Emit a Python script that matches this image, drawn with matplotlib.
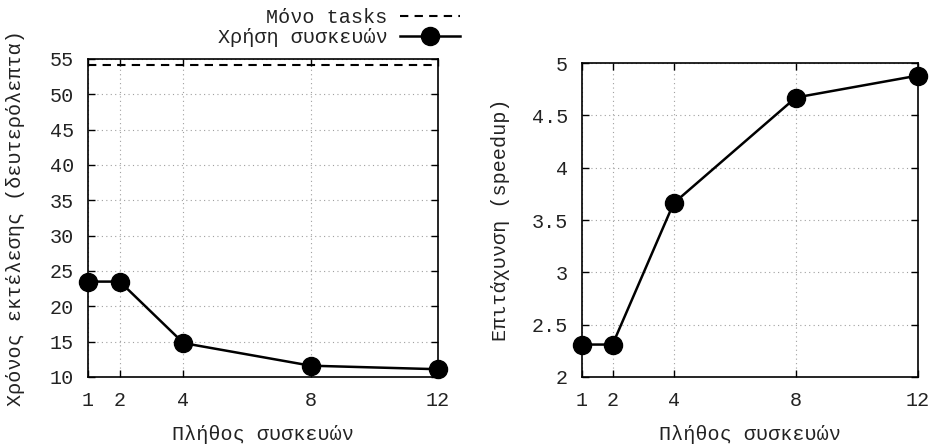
import matplotlib
matplotlib.use("Agg")
import matplotlib.pyplot as plt

plt.rcParams['font.family'] = ['Liberation Mono', 'DejaVu Sans Mono']
plt.rcParams['font.size'] = 14.5

devices = [1, 2, 4, 8, 12]
exec_time = [23.5, 23.5, 14.8, 11.6, 11.1]
tasks_only = 54.2
speedup = [2.31, 2.31, 3.66, 4.67, 4.88]

x_label = 'Πλήθος συσκευών'
time_label = 'Χρόνος εκτέλεσης (δευτερόλεπτα)'
speedup_label = 'Επιτάχυνση (speedup)'
time_ticks = [10, 15, 20, 25, 30, 35, 40, 45, 50, 55]
speedup_ticks = [2, 2.5, 3, 3.5, 4, 4.5, 5]
speedup_ticklabels = ['2', '2.5', '3', '3.5', '4', '4.5', '5']

fig = plt.figure(figsize=(9.38, 4.47), dpi=100)
ax1 = fig.add_axes([88 / 938, 1 - 377 / 447, 350 / 938, 318 / 447])
ax2 = fig.add_axes([582 / 938, 1 - 377 / 447, 336 / 938, 314 / 447])


def style(ax):
    ax.grid(True, color='#a0a0a0', linestyle=(0, (1, 3)), linewidth=0.8)
    ax.tick_params(direction='in', length=5, width=1, top=True, right=True,
                   pad=10, colors='black', labelcolor='#222222')
    for s in ax.spines.values():
        s.set_linewidth(1.2)
        s.set_color('black')
    ax.set_xlim(1, 12)
    ax.set_xticks(devices)
    ax.set_xlabel(x_label, color='#222222')


# left: execution time
ax1.axhline(tasks_only, color='black', linestyle=(0, (4, 3)), linewidth=1.5,
            label='Μόνο tasks')
ax1.plot(devices, exec_time, color='black', linewidth=1.8, marker='o',
         markersize=13, label='Χρήση συσκευών', clip_on=False, zorder=5)
style(ax1)
ax1.set_ylim(10, 55)
ax1.set_yticks(time_ticks)
ax1.set_ylabel(time_label, color='#222222')
ax1.yaxis.set_label_coords(-63 / 350, 0.5)
ax1.xaxis.set_label_coords(0.5, -48 / 318)

# right: speedup
ax2.plot(devices, speedup, color='black', linewidth=1.8, marker='o',
         markersize=13, clip_on=False, zorder=5)
style(ax2)
ax2.set_ylim(2, 5)
ax2.set_yticks(speedup_ticks)
ax2.set_yticklabels(speedup_ticklabels)
ax2.set_ylabel(speedup_label, color='#222222')
ax2.yaxis.set_label_coords(-72 / 336, 0.5)
ax2.xaxis.set_label_coords(0.5, -48 / 314)

fig.legend(loc='upper right', bbox_to_anchor=(472 / 938, 1.01), frameon=False,
           markerfirst=False, handlelength=3.0, handletextpad=0.6,
           labelspacing=0.05, borderaxespad=0.2, labelcolor='#222222')

fig.savefig('out.png', dpi=100)
